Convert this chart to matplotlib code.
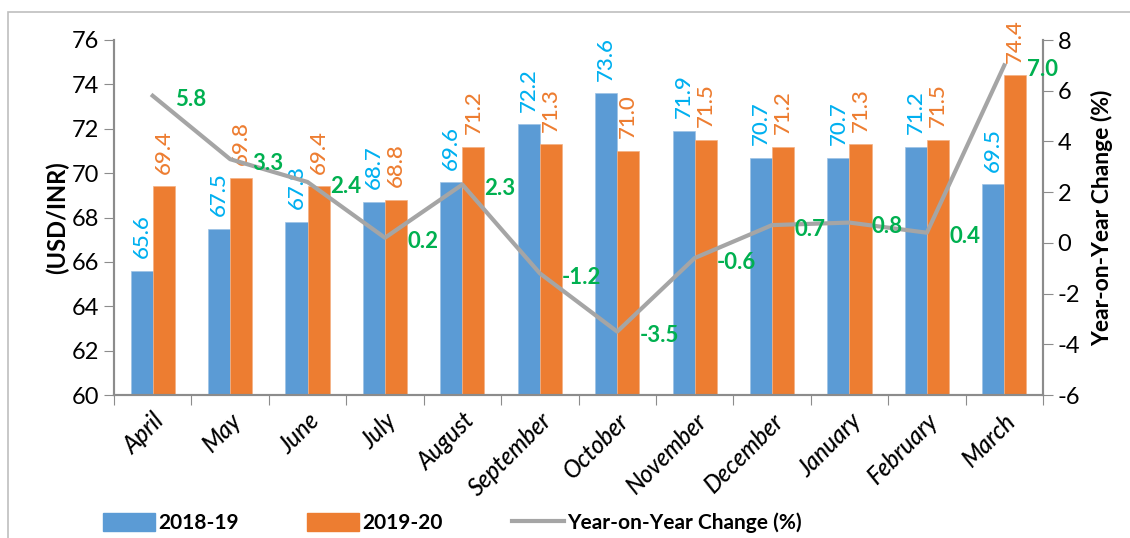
import matplotlib

matplotlib.use("Agg")
import matplotlib.pyplot as plt
import numpy as np
from matplotlib.lines import Line2D
from matplotlib.patches import Patch, Rectangle

months = ["April", "May", "June", "July", "August", "September", "October",
          "November", "December", "January", "February", "March"]
fy1819 = [65.6, 67.5, 67.8, 68.7, 69.6, 72.2, 73.6, 71.9, 70.7, 70.7, 71.2, 69.5]
fy1920 = [69.4, 69.8, 69.4, 68.8, 71.2, 71.3, 71.0, 71.5, 71.2, 71.3, 71.5, 74.4]
yoy = [5.8, 3.3, 2.4, 0.2, 2.3, -1.2, -3.5, -0.6, 0.7, 0.8, 0.4, 7.0]

BLUE = "#5B9BD5"
ORANGE = "#ED7D31"
GREY = "#A5A5A5"
SPINE = "#8C8C8C"
plt.rcParams["font.family"] = ["Lato", "DejaVu Sans"]
plt.rcParams["axes.unicode_minus"] = False

fig = plt.figure(figsize=(11.3, 5.38), dpi=100)
# outer chart border (only top/left visible in the original)
fig.patches.append(Rectangle((8 / 1130, -0.1), 1.2, (538 - 12) / 538 + 0.1,
                             transform=fig.transFigure, fill=False,
                             edgecolor="#BFBFBF", lw=1.2))
ax = fig.add_axes([114 / 1130, 143 / 538, 929 / 1130, 355 / 538])
ax2 = ax.twinx()

x = np.arange(len(months))
w = 0.285
ax.bar(x - w / 2, fy1819, w, color=BLUE, edgecolor="#9DC3E6", lw=0.5, zorder=2)
ax.bar(x + w / 2, fy1920, w, color=ORANGE, edgecolor="#F4B183", lw=0.5, zorder=2)
for xi, v in zip(x, fy1819):
    ax.annotate(f"{v:.1f}", (xi - w / 2, v), xytext=(0, 9), textcoords="offset points",
                rotation=90, ha="center", va="bottom", color="#00B0F0", fontsize=16,
                fontweight="medium")
for xi, v in zip(x, fy1920):
    ax.annotate(f"{v:.1f}", (xi + w / 2, v), xytext=(0, 9), textcoords="offset points",
                rotation=90, ha="center", va="bottom", color=ORANGE, fontsize=16,
                fontweight="medium")

ax.set_xlim(-0.5, len(months) - 0.5)
ax.set_ylim(60, 76)
ax.set_yticks(range(60, 77, 2))
ax.set_xticks(np.arange(-0.5, len(months), 1.0))
ax.set_xticklabels([])
ax.set_xticks(x, minor=True)
ax.set_xticklabels(months, minor=True, rotation=45, ha="right", rotation_mode="anchor",
                   style="italic", fontsize=17, fontweight="medium")
ax.tick_params(axis="x", which="major", length=7, color=SPINE, direction="out")
ax.tick_params(axis="x", which="minor", length=0, pad=10)
ax.tick_params(axis="y", length=7, color=SPINE, labelsize=17)
ax.set_ylabel("(USD/INR)", fontsize=17, fontweight="bold", labelpad=2)

ax2.plot(x, yoy, color=GREY, lw=3, zorder=3)
for xi, v in zip(x, yoy):
    ax2.annotate(f"{v:.1f}", (xi, v), xytext=(16, -3), textcoords="offset points",
                 ha="left", va="center", color="#00B050", fontsize=16, fontweight="bold")
ax2.set_ylim(-6, 8)
ax2.set_yticks(range(-6, 9, 2))
ax2.tick_params(axis="y", length=7, color=SPINE, labelsize=17)
ax2.set_ylabel("Year-on-Year Change (%)", fontsize=16.5, fontweight="bold", labelpad=8)

for a in (ax, ax2):
    a.spines["top"].set_visible(False)
    for s in ("left", "right", "bottom"):
        a.spines[s].set_color(SPINE)
        a.spines[s].set_linewidth(1.5)
ax.set_zorder(ax2.get_zorder() - 1)
ax.patch.set_visible(False)

handles = [Patch(color=BLUE), Patch(color=ORANGE), Line2D([], [], color=GREY, lw=3)]
fig.legend(handles, ["2018-19", "2019-20", "Year-on-Year Change (%)"],
           loc="center", bbox_to_anchor=(0.4, 0.028), ncol=3, frameon=False,
           prop={"weight": "bold", "size": 15}, handlelength=2.5, handleheight=1.0,
           columnspacing=3.3, handletextpad=0.15)

fig.savefig("out.png", dpi=100)
